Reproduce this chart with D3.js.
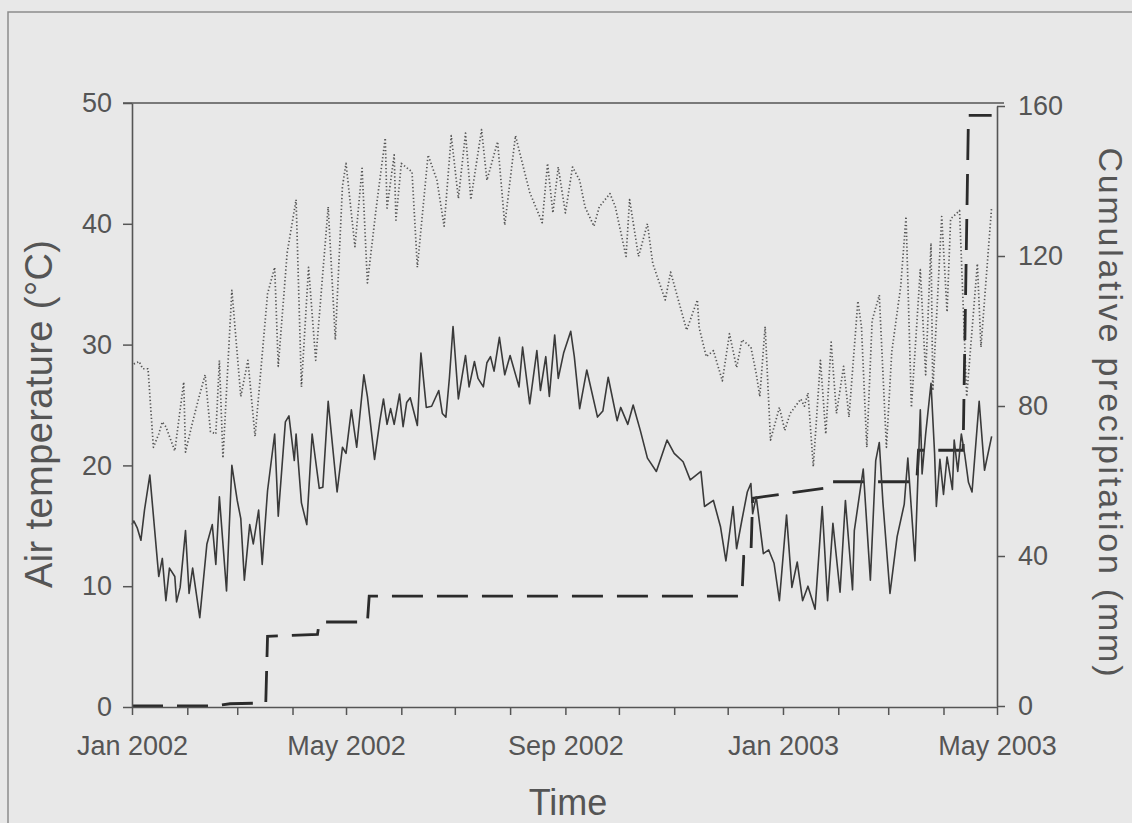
<!DOCTYPE html>
<html>
<head>
<meta charset="utf-8">
<script src="https://cdn.jsdelivr.net/npm/d3@7"></script>
<style>
  html, body { margin: 0; padding: 0; background: #e8e8e8; }
  svg { display: block; }
  text { font-family: "Liberation Sans", Arial, Helvetica, sans-serif; fill: #555; }
</style>
</head>
<body>
<svg id="chart" width="1132" height="823"></svg>
<script>
// Days counted from 1 January 2002.
// Daily mean air temperature (solid line), °C
const meanDays = [0,1,3,5,7,10,15,17,19,21,24,25,27,30,32,34,38,42,45,47,49,53,56,59,61,63,66,68,71,73,76,80,82,86,88,91,92,95,98,101,105,107,110,115,118,120,123,126,130,132,136,139,141,143,145,147,150,152,154,156,160,162,165,168,172,174,176,178,180,183,187,189,192,194,197,199,201,203,206,209,212,217,219,223,227,229,232,234,237,239,242,246,248,251,255,261,264,267,272,274,278,281,285,289,294,300,304,309,313,319,321,326,330,333,337,339,342,345,347,348,350,354,357,360,363,367,370,373,376,379,383,387,390,393,397,400,404,405,410,414,417,419,421,425,429,433,435,439,442,443,445,448,450,451,453,455,457,460,461,463,465,467,469,471,475,478,482];
const meanTemp = [15.1,15.4,14.8,13.8,16.3,19.2,10.8,12.3,8.8,11.5,10.8,8.7,9.9,14.6,9.4,11.5,7.4,13.5,15.1,11.8,17.4,9.6,20.0,17.1,15.6,10.5,15.1,13.5,16.3,11.8,17.9,22.6,15.8,23.6,24.1,20.4,22.6,16.9,15.1,22.6,18.1,18.2,25.3,17.8,21.5,21.0,24.6,21.5,27.5,25.7,20.5,23.7,25.5,23.4,24.7,23.4,25.9,23.2,25.2,25.6,23.3,29.3,24.8,24.9,26.2,24.3,24.0,27.3,31.5,25.5,29.1,26.5,28.6,27.2,26.5,28.5,29.0,27.8,30.6,27.5,29.1,26.5,29.8,25.1,29.5,26.2,29.0,25.7,30.8,27.2,29.3,31.1,29.0,24.7,27.9,24.0,24.5,27.3,23.7,24.8,23.4,25.0,22.9,20.6,19.5,22.1,21.0,20.3,18.8,19.5,16.6,17.1,14.9,12.1,16.6,13.1,15.5,17.8,18.5,16.0,17.4,12.7,13.0,11.9,8.8,15.9,9.9,12.0,8.8,10.0,8.1,16.6,8.8,15.2,9.5,17.1,9.7,14.6,19.7,10.5,20.4,21.9,17.0,9.4,14.1,16.8,20.6,12.1,24.6,19.3,22.6,26.8,21.0,16.6,20.5,17.6,20.7,18.0,22.1,19.5,22.6,20.8,18.6,17.8,25.3,19.6,22.4];

// Daily maximum air temperature (dotted line), °C
const maxDays = [1,4,6,9,12,15,17,19,24,29,30,34,38,41,44,47,49,51,56,61,65,69,76,80,82,87,92,95,99,103,110,114,118,120,125,129,132,137,142,143,147,148,151,157,160,166,171,175,179,183,187,190,196,199,205,209,215,223,230,233,236,239,243,247,251,254,259,262,268,271,277,279,284,289,292,299,302,305,311,317,318,322,326,331,335,339,342,347,350,352,355,358,363,366,369,375,377,379,382,386,389,392,395,399,402,407,409,412,415,419,423,426,431,434,437,442,445,448,449,454,457,459,464,468,474,476,482];
const maxTemp = [28.4,28.6,28.0,28.0,21.5,22.6,23.6,23.2,21.2,26.9,21.1,23.6,25.9,27.5,22.8,22.6,28.7,20.6,34.5,25.7,28.7,22.4,34.2,36.4,28.2,37.6,42.0,26.5,36.4,28.7,41.4,30.4,43.1,45.0,38.1,44.6,35.1,41.4,47.1,41.3,45.7,40.3,45.0,44.3,36.4,45.7,43.6,39.8,47.3,42.1,47.5,42.0,47.8,43.6,46.8,39.9,47.3,42.6,40.1,45.0,40.9,44.7,40.9,44.7,43.6,41.4,39.8,41.4,42.5,41.4,37.3,42.0,37.3,40.0,36.7,33.7,36.0,34.4,31.2,33.7,31.4,29.0,29.5,27.0,30.9,28.1,30.4,29.8,27.6,25.7,31.5,22.1,24.8,22.9,24.3,25.5,24.9,26.0,19.9,28.7,22.6,30.2,24.3,28.2,24.0,33.6,31.5,21.5,32.0,34.1,21.5,29.4,34.8,40.6,24.8,36.2,27.5,38.4,26.2,40.6,32.7,40.4,41.1,25.7,36.7,29.8,41.4];

// Cumulative precipitation (dashed line), mm
const rainDays = [0,45,55,75,76,104,105,132,133,342,343,347,348,392,393,440,441,466,469,482];
const rainCum  = [0,0,0.6,0.8,18.6,19.1,22.4,22.4,29.3,29.3,39.9,40.0,55.4,58.3,59.8,59.8,68.2,68.2,157.5,157.5];

const tempTicks = [0, 10, 20, 30, 40, 50];
const rainTicks = [0, 40, 80, 120, 160];
const labelledMonths = [0, 4, 8];   // Jan, May, Sep

const startDate = new Date(2002, 0, 1);
const endDate = new Date(2003, 4, 1);
const dayToDate = d => d3.timeDay.offset(startDate, d);

const svg = d3.select("#chart");
const W = 1132, H = 823;
const plotL = 132, plotR = 997, plotT = 103, plotB = 707;

svg.append("rect").attr("width", W).attr("height", H).attr("fill", "#e8e8e8");
// page frame
svg.append("path").attr("d", `M8,${H} V12 H${W}`)
  .attr("fill", "none").attr("stroke", "#8c8c8c").attr("stroke-width", 1.5);

const x = d3.scaleTime().domain([startDate, endDate]).range([plotL, plotR]);
const yT = d3.scaleLinear().domain([0, 50]).range([plotB, plotT]);
const yP = d3.scaleLinear().domain([0, 160]).range([plotB - 1, plotT + 3]);

const mean = meanDays.map((d, i) => ({ date: dayToDate(d), v: meanTemp[i] }));
const tmax = maxDays.map((d, i) => ({ date: dayToDate(d), v: maxTemp[i] }));
const rain = rainDays.map((d, i) => ({ date: dayToDate(d), v: rainCum[i] }));

const lineT = d3.line().x(d => x(d.date)).y(d => yT(d.v));
const lineP = d3.line().x(d => x(d.date)).y(d => yP(d.v));

// maximum temperature, dotted
svg.append("path").datum(tmax).attr("d", lineT)
  .attr("fill", "none").attr("stroke", "#555").attr("stroke-width", 1.7)
  .attr("stroke-dasharray", "1.3,2.3").attr("stroke-linejoin", "round");

// cumulative precipitation, dashed
svg.append("path").datum(rain).attr("d", lineP)
  .attr("fill", "none").attr("stroke", "#2b2b2b").attr("stroke-width", 2.8)
  .attr("stroke-dasharray", "31,14");

// mean temperature, solid
svg.append("path").datum(mean).attr("d", lineT)
  .attr("fill", "none").attr("stroke", "#3a3a3a").attr("stroke-width", 1.6)
  .attr("stroke-linejoin", "round");

// frame top edge
svg.append("line").attr("x1", 123).attr("x2", 1004).attr("y1", plotT).attr("y2", plotT)
  .attr("stroke", "#555").attr("stroke-width", 1.6);

function styleAxis(g) {
  g.selectAll("path.domain").attr("stroke", "#555").attr("stroke-width", 1.6);
  g.selectAll(".tick line").attr("stroke", "#555").attr("stroke-width", 1.5);
  g.selectAll(".tick text").attr("fill", "#555").style("font-size", "27px")
    .style("font-family", '"Liberation Sans", Arial, sans-serif');
}

// left axis
svg.append("g").attr("transform", `translate(${plotL},0)`)
  .call(d3.axisLeft(yT).tickValues(tempTicks).tickSize(9).tickSizeOuter(0).tickPadding(11))
  .call(styleAxis);

// right axis
svg.append("g").attr("transform", `translate(${plotR},0)`)
  .call(d3.axisRight(yP).tickValues(rainTicks).tickSize(8).tickSizeOuter(0).tickPadding(13))
  .call(styleAxis);

// bottom axis: a tick every month, labels every four months
const months = d3.timeMonth.range(startDate, d3.timeDay.offset(endDate, 1));
const fmt = d3.timeFormat("%b %Y");
svg.append("g").attr("transform", `translate(0,${plotB})`)
  .call(d3.axisBottom(x).tickValues(months).tickSize(8).tickSizeOuter(0).tickPadding(21)
    .tickFormat(d => labelledMonths.includes(d.getMonth()) ? fmt(d) : ""))
  .call(styleAxis);

// axis titles
svg.append("text").attr("transform", "translate(52,414) rotate(-90)")
  .attr("text-anchor", "middle").style("font-size", "38px")
  .attr("textLength", 348).attr("lengthAdjust", "spacing")
  .text("Air temperature (°C)");

svg.append("text").attr("transform", "translate(1099,412) rotate(90)")
  .attr("text-anchor", "middle").style("font-size", "34px")
  .attr("textLength", 529).attr("lengthAdjust", "spacing")
  .text("Cumulative precipitation (mm)");

svg.append("text").attr("x", 568).attr("y", 815)
  .attr("text-anchor", "middle").style("font-size", "36px")
  .text("Time");
</script>
</body>
</html>
